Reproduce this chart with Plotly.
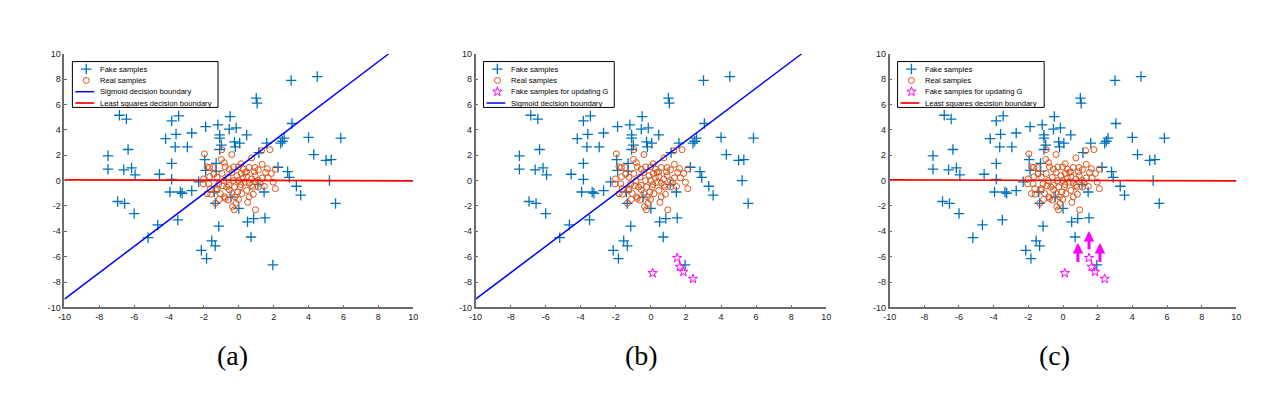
import plotly.graph_objects as go

# axis ticks shared by the three panels
ticks = [-10, -8, -6, -4, -2, 0, 2, 4, 6, 8, 10]
tick_text = ["-10", "-8", "-6", "-4", "-2", "0", "2", "4", "6", "8", "10"]

# fake samples (blue +)
fake_x = [-7.5, -7.5, -6.85, -6.45, -6.35, -6.6, -6.15, -5.95, -6.95, -6.55,
          -6.0, -4.65, -5.2, -4.55, -4.2, -3.85, -3.45, -3.6, -3.65, -3.85,
          -3.85, -3.95, -3.35, -3.25, -3.5, -2.95, -2.7, -2.7, -2.3, -1.9,
          -1.95, -1.9, -2.15, -1.55, -1.35, -1.85, -1.15, -1.35, -1.3, -1.2,
          -1.1, -1.1, -1.1, -1.0, -1.3, -1.4, -0.5, -0.55, -0.15, -0.2,
          0.05, -0.25, 0.45, -0.45, 0.0, 0.5, 0.85, 0.7, 1.5, 1.0,
          1.05, 1.15, 1.6, 1.45, 1.95, 2.25, 2.4, 2.5, 2.6, 3.0,
          3.05, 2.8, 2.9, 3.3, 3.55, 4.0, 4.3, 4.5, 5.0, 5.3,
          5.2, 5.55, 5.85, 1.1]
fake_y = [1.95, 0.9, 5.15, 4.85, 2.45, 0.85, 1.0, 0.45, -1.65, -1.8,
          -2.6, -3.5, -4.5, 0.5, 3.3, 4.7, 5.1, 3.65, 2.65, 1.35,
          0.1, -0.9, -0.9, -1.0, -3.1, 2.65, 3.75, -0.8, -0.1, 4.25,
          1.65, 0.8, -5.5, -4.75, -5.15, -6.15, -3.6, -1.8, 1.35, 4.4,
          3.6, 3.35, 2.45, 2.8, 0.75, -0.9, 5.05, 4.05, 4.15, 2.65,
          2.95, 3.05, 3.6, -1.3, -2.2, -3.25, -3.0, -4.45, -2.95, 6.5,
          6.1, 2.2, 2.95, -0.9, -6.65, 1.05, 2.95, 3.1, 3.35, 7.9,
          4.5, 0.7, 0.25, -0.45, -1.15, 3.4, 2.05, 8.2, 1.6, 1.65,
          0.0, -1.8, 3.35, -0.3]

# real samples (orange o)
real_x = [-1.97, -0.97, -0.4, 0.74, 1.31, 1.78, -1.82, -1.68, -1.0, -0.83,
          -0.78, -0.55, -0.3, -0.02, 0.13, 0.26, 0.45, 0.59, 0.89, 1.12,
          1.34, 1.63, 1.87, 2.1, -1.67, -2.02, -2.04, -1.72, -1.25, -1.15,
          -0.93, -0.85, -0.62, -0.55, -0.3, -0.11, -0.02, 0.13, 0.26, 0.45,
          0.59, 0.74, 0.93, 1.12, 1.34, 1.46, 1.68, 1.97, 2.1, -1.82,
          -1.61, -1.12, -1.34, -0.78, -0.7, -0.55, -0.25, -0.06, 0.08, 0.17,
          0.45, 0.59, 0.83, 0.79, -0.02, 0.51, -0.36, -0.17, -0.26, 0.96,
          -1.63, -1.29, -1.06, 1.12, 1.23, 0.36, -0.4, 0.11, -1.44, -0.97,
          -0.4, 0.93, -1.44, -0.21, 0.36, -1.25, -0.62, 1.53, 0.74, -0.81]
real_y = [2.1, 2.44, 2.05, 1.79, 2.36, 2.44, 1.08, 1.03, 1.67, 1.41,
          1.08, 0.9, 1.08, 1.08, 1.33, 0.9, 0.69, 1.03, 0.69, 0.85,
          1.28, 0.95, 0.56, 0.9, 0.31, 0.13, -0.26, -0.26, 0.26, -0.26,
          -0.41, 0.0, 0.26, -0.38, 0.0, 0.38, 0.0, 0.56, 0.18, 0.31,
          -0.21, 0.13, 0.38, 0.0, 0.21, -0.46, 0.21, -0.13, -0.64, -1.03,
          -1.08, -1.49, -1.79, -1.41, -0.51, -0.72, -0.51, -0.9, -0.51, -1.03,
          -0.77, -1.28, -1.08, -0.51, -1.49, -1.72, -2.05, -1.79, -2.31, -2.31,
          -0.64, -0.77, -1.03, -0.51, -0.21, -0.13, -1.03, -0.31, 1.03, 0.56,
          0.64, 1.03, 0.51, -1.28, 0.64, -0.64, -1.54, 0.64, -0.38, -1.28]

# fake samples picked for updating G (magenta stars)
update_x = [0.1, 1.5, 1.65, 1.85, 2.4]
update_y = [-7.3, -6.1, -6.8, -7.2, -7.75]

# decision boundaries
sigmoid_x = [-10, 8.6]
sigmoid_y = [-9.35, 10]
lsq_x = [-10, 10]
lsq_y = [0.05, -0.02]

# arrows in panel (c)
arrow_x = [0.86, 1.5, 2.13]
arrow_from_y = [-6.54, -5.54, -6.54]
arrow_to_y = [-4.92, -3.97, -4.92]

names = {
    "fake": "Fake samples",
    "real": "Real samples",
    "update": "Fake samples for updating G",
    "sigmoid": "Sigmoid decision boundary",
    "lsq": "Least squares decision boundary",
}

W, H = 1280, 406
top_px, bottom_px = 50, 310

panels = [
    dict(label="(a)", left=58, right=410, label_x=228, box_w=147,
         items=["fake", "real", "sigmoid", "lsq"]),
    dict(label="(b)", left=473, right=827, label_x=640, box_w=132,
         items=["fake", "real", "update", "sigmoid"]),
    dict(label="(c)", left=891, right=1241, label_x=1057, box_w=148,
         items=["fake", "real", "update", "lsq"]),
]

blue = "#0072BD"
orange = "#D95319"
magenta = "#FF00FF"


def trace_for(kind, xa, ya, x=None, y=None):
    if kind == "fake":
        return go.Scatter(x=fake_x if x is None else x, y=fake_y if y is None else y,
                          mode="markers", xaxis=xa, yaxis=ya, hoverinfo="skip",
                          marker=dict(symbol="cross-thin", size=7.5, color=blue,
                                      line=dict(width=1.3, color=blue)))
    if kind == "real":
        return go.Scatter(x=real_x if x is None else x, y=real_y if y is None else y,
                          mode="markers", xaxis=xa, yaxis=ya, hoverinfo="skip",
                          marker=dict(symbol="circle-open", size=6, color=orange,
                                      line=dict(width=1)))
    if kind == "update":
        return go.Scatter(x=update_x if x is None else x, y=update_y if y is None else y,
                          mode="markers", xaxis=xa, yaxis=ya, hoverinfo="skip",
                          marker=dict(symbol="star-open", size=7, color=magenta,
                                      line=dict(width=1)))
    if kind == "sigmoid":
        return go.Scatter(x=sigmoid_x if x is None else x, y=sigmoid_y if y is None else y,
                          mode="lines", xaxis=xa, yaxis=ya, hoverinfo="skip",
                          line=dict(color="#0000FF", width=1.5))
    return go.Scatter(x=lsq_x if x is None else x, y=lsq_y if y is None else y,
                      mode="lines", xaxis=xa, yaxis=ya, hoverinfo="skip",
                      line=dict(color="#FF0000", width=1.7))


fig = go.Figure()
annotations = []

draw_order = ["fake", "real", "sigmoid", "lsq", "update"]
for i, p in enumerate(panels):
    n = "" if i == 0 else str(i + 1)
    xa, ya = "x" + n, "y" + n
    for kind in draw_order:
        if kind in p["items"]:
            fig.add_trace(trace_for(kind, xa, ya))
    axis_style = dict(range=[-10, 10], tickvals=ticks, ticktext=tick_text,
                      showline=True, linecolor="#6b6b6b", linewidth=1.6,
                      ticks="inside", ticklen=3, tickcolor="#6b6b6b", tickwidth=1,
                      showgrid=False, zeroline=False, fixedrange=True,
                      tickfont=dict(family="Liberation Sans", size=9, color="#222222"))
    fig.update_layout(**{
        "xaxis" + n: dict(domain=[p["left"] / W, p["right"] / W], anchor=ya, **axis_style),
        "yaxis" + n: dict(domain=[(H - bottom_px) / H, (H - top_px) / H], anchor=xa, **axis_style),
    })
    annotations.append(dict(x=p["label_x"] / W, y=(H - 359) / H, xref="paper", yref="paper",
                            xanchor="center", yanchor="middle",
                            text=p["label"], showarrow=False,
                            font=dict(family="Liberation Serif", size=28, color="black")))

# arrows in panel (c)
for ax_, y0, y1 in zip(arrow_x, arrow_from_y, arrow_to_y):
    annotations.append(dict(x=ax_, y=y1, ax=ax_, ay=y0, xref="x3", yref="y3",
                            axref="x3", ayref="y3", text="", showarrow=True,
                            arrowhead=2, arrowsize=0.7, arrowwidth=3,
                            arrowcolor=magenta))

# legends drawn on an invisible pixel-space overlay so they sit above the data
for p in panels:
    L = p["left"] + 8
    T = 58
    B = T + 47
    R = L + p["box_w"]
    fig.add_trace(go.Scatter(x=[L, R, R, L, L], y=[T, T, B, B, T], mode="lines",
                             fill="toself", fillcolor="white",
                             line=dict(color="black", width=1),
                             xaxis="x4", yaxis="y4", hoverinfo="skip"))
    for j, kind in enumerate(p["items"]):
        ry = T + 7.7 + j * 11.6
        if kind in ("sigmoid", "lsq"):
            fig.add_trace(trace_for(kind, "x4", "y4", x=[L + 3, L + 22], y=[ry, ry]))
        else:
            fig.add_trace(trace_for(kind, "x4", "y4", x=[L + 14], y=[ry]))
        annotations.append(dict(x=L + 26, y=ry, xref="x4", yref="y4", text=names[kind],
                                showarrow=False, xanchor="left", yanchor="middle",
                                font=dict(family="Liberation Sans", size=7.6, color="black")))

fig.update_layout(
    xaxis4=dict(domain=[0, 1], range=[0, W], visible=False, fixedrange=True, anchor="y4"),
    yaxis4=dict(domain=[0, 1], range=[H, 0], visible=False, fixedrange=True, anchor="x4"),
    width=W, height=H,
    margin=dict(l=0, r=0, t=0, b=0),
    paper_bgcolor="white", plot_bgcolor="rgba(0,0,0,0)",
    showlegend=False,
    annotations=annotations,
)

fig.write_html("out.html", config={"displayModeBar": False},
               post_script="document.body.style.margin='0';document.body.style.overflow='hidden';")
